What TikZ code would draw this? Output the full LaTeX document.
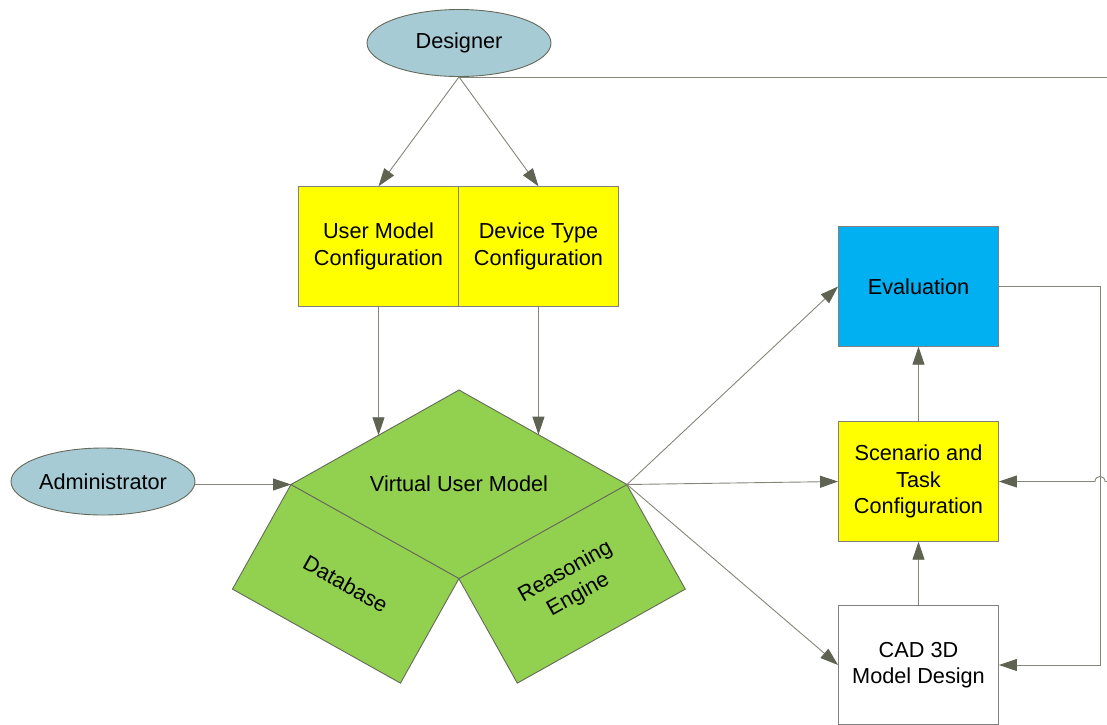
\documentclass[tikz,border=0pt]{standalone}
\usepackage{fontspec}
\setmainfont{Liberation Sans}
\usetikzlibrary{arrows.meta,calc,shapes.geometric}
\definecolor{actorfill}{HTML}{A6CBD5}
\definecolor{cfgfill}{HTML}{FFFF00}
\definecolor{evalfill}{HTML}{00B0F0}
\definecolor{vumfill}{HTML}{92D050}
\definecolor{edgec}{HTML}{85857A}
\definecolor{tipc}{HTML}{5F6352}
\definecolor{rimc}{HTML}{808080}
\definecolor{wedgerim}{HTML}{66695A}

\begin{document}
\begin{tikzpicture}[x=1pt,y=-1pt,
  every node/.style={font=\fontsize{21.7}{26.5}\selectfont, align=center, inner sep=0pt},
  actor/.style={ellipse, draw=wedgerim, fill=actorfill, line width=0.9pt,
    minimum width=184pt, minimum height=67pt},
  box/.style={rectangle, draw=rimc, line width=0.9pt,
    minimum width=160pt, minimum height=119.5pt},
  wedge/.style={draw=wedgerim, fill=vumfill, line width=0.9pt},
  conn/.style={draw=edgec, line width=0.9pt},
  arr/.style={conn, -{Triangle[length=18pt,width=12pt,color=tipc]}},
]
\useasboundingbox (0,0) rectangle (1107,724);

% actors
\node[actor] (designer) at (459,43) {Designer};
\node[actor] (admin) at (103,481.5) {Administrator};

% configuration boxes
\node[box, fill=cfgfill] (umc) at (378.5,246.5) {User Model\\Configuration};
\node[box, fill=cfgfill] (dtc) at (538.5,246.5) {Device Type\\Configuration};

% right column
\node[box, fill=evalfill] (eval) at (918.5,286.5) {Evaluation};
\node[box, fill=cfgfill] (scen) at (918.5,481.5) {Scenario and\\Task\\Configuration};
\node[box, fill=white] (cad) at (918.5,665) {CAD 3D\\Model Design};

% virtual user model with its two supporting blocks
\coordinate (vT) at (459,390);
\coordinate (vL) at (291,484.5);
\coordinate (vR) at (627,484.5);
\coordinate (vB) at (459,578.5);
\node[wedge, rectangle, rotate=-29.23, minimum width=192.5pt, minimum height=120pt]
  (db) at (345.75,583.75) {Database};
\node[wedge, rectangle, rotate=29.23, minimum width=192.5pt, minimum height=120pt]
  (re) at (572,583.75) {Reasoning\\Engine};
\draw[wedge] (vT) -- (vR) -- (vB) -- (vL) -- cycle;
\node (vum) at (459,484) {Virtual User Model};

% helper coordinates for the outgoing / returning lines
\coordinate (offRight) at (1107,0);
\coordinate (loop) at (1100,0);

% connectors
\draw[conn] (designer.south) -- (designer.south -| offRight);
\draw[arr] (designer.south) -- (umc.north);
\draw[arr] (designer.south) -- (dtc.north);
\draw[arr] (umc.south) -- ($(vL)!0.521!(vT)$);
\draw[arr] (dtc.south) -- ($(vT)!0.473!(vR)$);
\draw[arr] (admin.east |- vL) -- (vL);
\draw[arr] (vR) -- (eval.west);
\draw[arr] (vR) -- (scen.west);
\draw[arr] (vR) -- (cad.west);
\draw[arr] (scen.north) -- (eval.south);
\draw[arr] (cad.north) -- (scen.south);
\draw[arr] (eval.east) -- (eval.east -| loop) -- (cad.east -| loop) -- (cad.east);
\draw[arr] (scen.east -| offRight) -- ($(scen.east -| loop)+(5,0)$)
  .. controls +(0,-6.7) and +(0,-6.7) .. ($(scen.east -| loop)+(-5,0)$)
  -- (scen.east);
\end{tikzpicture}
\end{document}
